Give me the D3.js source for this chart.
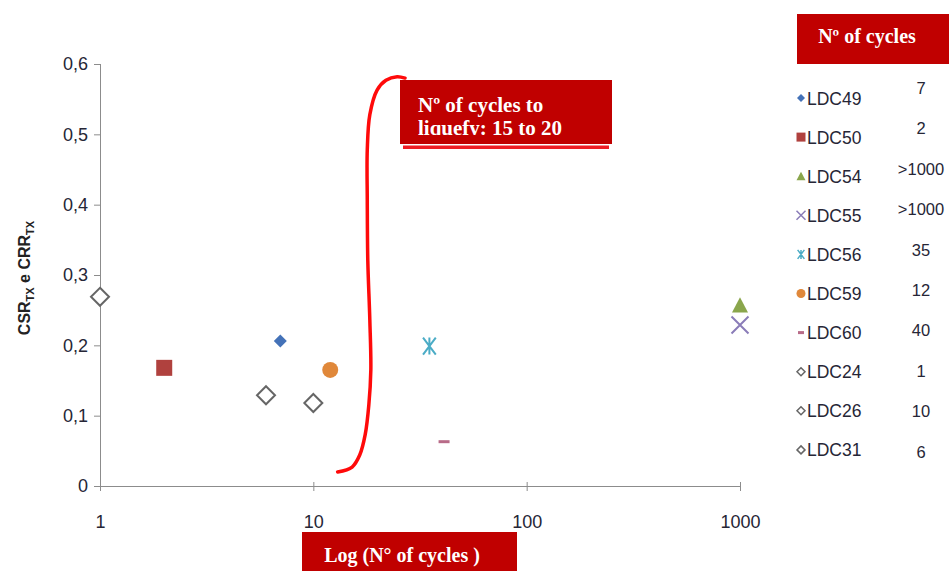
<!DOCTYPE html>
<html><head><meta charset="utf-8">
<script src="https://cdn.jsdelivr.net/npm/d3@7"></script>
<style>body{margin:0;background:#fff}svg{display:block}</style>
</head><body>
<svg id="c" width="949" height="571"></svg>
<script>
// ---- data ----
const series = ["LDC49","LDC50","LDC54","LDC55","LDC56","LDC59","LDC60","LDC24","LDC26","LDC31"];
const cycles = [7, 2, 1000, 1000, 35, 12, 41, 1, 10, 6];
const csr = [0.206, 0.168, 0.257, 0.229, 0.199, 0.165, 0.063, 0.269, 0.118, 0.129];
const cycleLabels = ["7","2",">1000",">1000","35","12","40","1","10","6"];
const shapes = ["diamond","square","triangle","x","star","circle","dash","odiamond","odiamond","odiamond"];
const colors = ["#4472b8","#b0413e","#8aa64c","#8a7cb8","#4bacc6","#e0883a","#b86b88","#666666","#666666","#666666"];
const xTicks = [1, 10, 100, 1000];
const yTicks = [0, 0.1, 0.2, 0.3, 0.4, 0.5, 0.6];
const curveX = [13.0, 15.2, 16.5, 17.5, 18.2, 18.6, 18.4, 18.0, 17.9, 17.9, 18.4, 19.9, 21.9, 24.7, 26.9];
const curveY = [0.020, 0.027, 0.044, 0.073, 0.115, 0.165, 0.236, 0.321, 0.407, 0.478, 0.528, 0.563, 0.577, 0.582, 0.580];

const svg = d3.select("#c");
const x = d3.scaleLog().domain([1, 1000]).range([100, 740]);
const y = d3.scaleLinear().domain([0, 0.6]).range([486, 64]);

const sans = "'Liberation Sans', Arial, sans-serif";
const txtColor = "#262636";
const axisColor = "#8c8c8c";

// y axis
const yAxis = svg.append("g").attr("transform", "translate(100,0)")
  .call(d3.axisLeft(y).tickValues(yTicks).tickSize(6).tickPadding(6)
    .tickFormat(d => d === 0 ? "0" : d3.format(".1f")(d).replace(".", ",")));
yAxis.select(".domain").attr("stroke", axisColor).attr("d", "M0.5,64V486");
yAxis.selectAll(".tick line").attr("stroke", axisColor);
yAxis.selectAll(".tick text").attr("font-family", sans).attr("font-size", 18).attr("fill", txtColor);

// x axis
const xAxis = svg.append("g").attr("transform", "translate(0,486)")
  .call(d3.axisBottom(x).tickValues(xTicks).tickSize(5).tickPadding(24).tickFormat(d3.format("d")));
xAxis.select(".domain").attr("stroke", axisColor).attr("d", "M100,0.5H740");
xAxis.selectAll(".tick line").attr("stroke", axisColor).attr("y1", -4);
xAxis.selectAll(".tick text").attr("font-family", sans).attr("font-size", 18).attr("fill", txtColor);

// y axis title
const yt = svg.append("text").attr("transform", "translate(30,278) rotate(-90)")
  .attr("text-anchor", "middle").attr("font-family", sans)
  .attr("font-weight", "bold").attr("font-size", 16).attr("fill", "#222");
yt.append("tspan").text("CSR");
yt.append("tspan").attr("font-size", 11).attr("dy", 4).text("TX");
yt.append("tspan").attr("dy", -4).text(" e CRR");
yt.append("tspan").attr("font-size", 11).attr("dy", 4).text("TX");

// red curve
const curvePts = curveX.map((v, i) => [v, curveY[i]]);
svg.append("path").datum(curvePts)
  .attr("d", d3.line().x(d => x(d[0])).y(d => y(d[1])).curve(d3.curveCatmullRom))
  .attr("fill", "none").attr("stroke", "#ff0a0a").attr("stroke-width", 3.5).attr("stroke-linecap", "round");

// marker paths
function markerPath(shape, r) {
  switch (shape) {
    case "diamond": case "odiamond": return `M0,${-r}L${r},0L0,${r}L${-r},0Z`;
    case "square": return `M${-r},${-r}H${r}V${r}H${-r}Z`;
    case "triangle": return `M0,${-r}L${r},${r * 0.9}L${-r},${r * 0.9}Z`;
    case "x": return `M${-r},${-r}L${r},${r}M${r},${-r}L${-r},${r}`;
    case "star": return `M${-r * 0.75},${-r}L${r * 0.75},${r}M${r * 0.75},${-r}L${-r * 0.75},${r}M0,${-r}V${r}`;
    case "circle": return d3.arc()({innerRadius: 0, outerRadius: r, startAngle: 0, endAngle: 2 * Math.PI});
    case "dash": return `M${-r},-1.5H${r}V1.5H${-r}Z`;
  }
}
function styleMarker(sel, shape, col, sw) {
  if (shape === "x" || shape === "star") sel.attr("fill", "none").attr("stroke", col).attr("stroke-width", sw);
  else if (shape === "odiamond") sel.attr("fill", "#fff").attr("stroke", col).attr("stroke-width", sw);
  else sel.attr("fill", col);
}
const bigR = {diamond: 6.5, square: 8, triangle: 8, x: 8.5, star: 8.5, circle: 8, dash: 5.5, odiamond: 9};
const smallR = {diamond: 4, square: 4.5, triangle: 4.5, x: 4.5, star: 4.5, circle: 4.5, dash: 3, odiamond: 4};

// points
series.forEach((s, i) => {
  const p = svg.append("path").attr("transform", `translate(${x(cycles[i])},${y(csr[i])})`)
    .attr("d", markerPath(shapes[i], bigR[shapes[i]]));
  styleMarker(p, shapes[i], colors[i], 2);
});

// legend
series.forEach((s, i) => {
  const cy = 98 + i * 39.1;
  const p = svg.append("path").attr("transform", `translate(801,${cy})`)
    .attr("d", markerPath(shapes[i], smallR[shapes[i]]));
  styleMarker(p, shapes[i], colors[i], 1.5);
  svg.append("text").attr("x", 807).attr("y", cy + 6.5).attr("font-family", sans)
    .attr("font-size", 17.5).attr("fill", txtColor).text(s);
  svg.append("text").attr("x", 921).attr("y", 88 + i * 40.4 + 6).attr("text-anchor", "middle")
    .attr("font-family", sans).attr("font-size", 16.5).attr("fill", txtColor).text(cycleLabels[i]);
});

// red boxes
const serif = "'Liberation Serif', 'Times New Roman', serif";
svg.append("rect").attr("x", 797).attr("y", 14).attr("width", 152).attr("height", 50).attr("fill", "#c00000");
svg.append("text").attr("x", 867).attr("y", 43).attr("text-anchor", "middle").attr("font-family", serif)
  .attr("font-weight", "bold").attr("font-size", 20).attr("fill", "#fff").text("Nº of cycles");

svg.append("rect").attr("x", 302).attr("y", 532).attr("width", 215).attr("height", 39).attr("fill", "#c00000");
svg.append("text").attr("x", 402).attr("y", 562).attr("text-anchor", "middle").attr("font-family", serif)
  .attr("font-weight", "bold").attr("font-size", 20).attr("fill", "#fff").text("Log (N° of cycles )");

svg.append("rect").attr("x", 403).attr("y", 145.5).attr("width", 206).attr("height", 3.5).attr("fill", "#ee1c24");
svg.append("rect").attr("x", 400).attr("y", 80).attr("width", 212).attr("height", 64).attr("fill", "#c00000");
svg.append("clipPath").attr("id", "boxclip").append("rect").attr("x", 400).attr("y", 80).attr("width", 212).attr("height", 55);
const bt = svg.append("text").attr("clip-path", "url(#boxclip)").attr("font-family", serif)
  .attr("font-weight", "bold").attr("font-size", 21).attr("fill", "#fff");
bt.append("tspan").attr("x", 418).attr("y", 112).text("Nº of cycles to");
bt.append("tspan").attr("x", 418).attr("y", 134.5).text("liquefy: 15 to 20");
</script>
</body></html>
